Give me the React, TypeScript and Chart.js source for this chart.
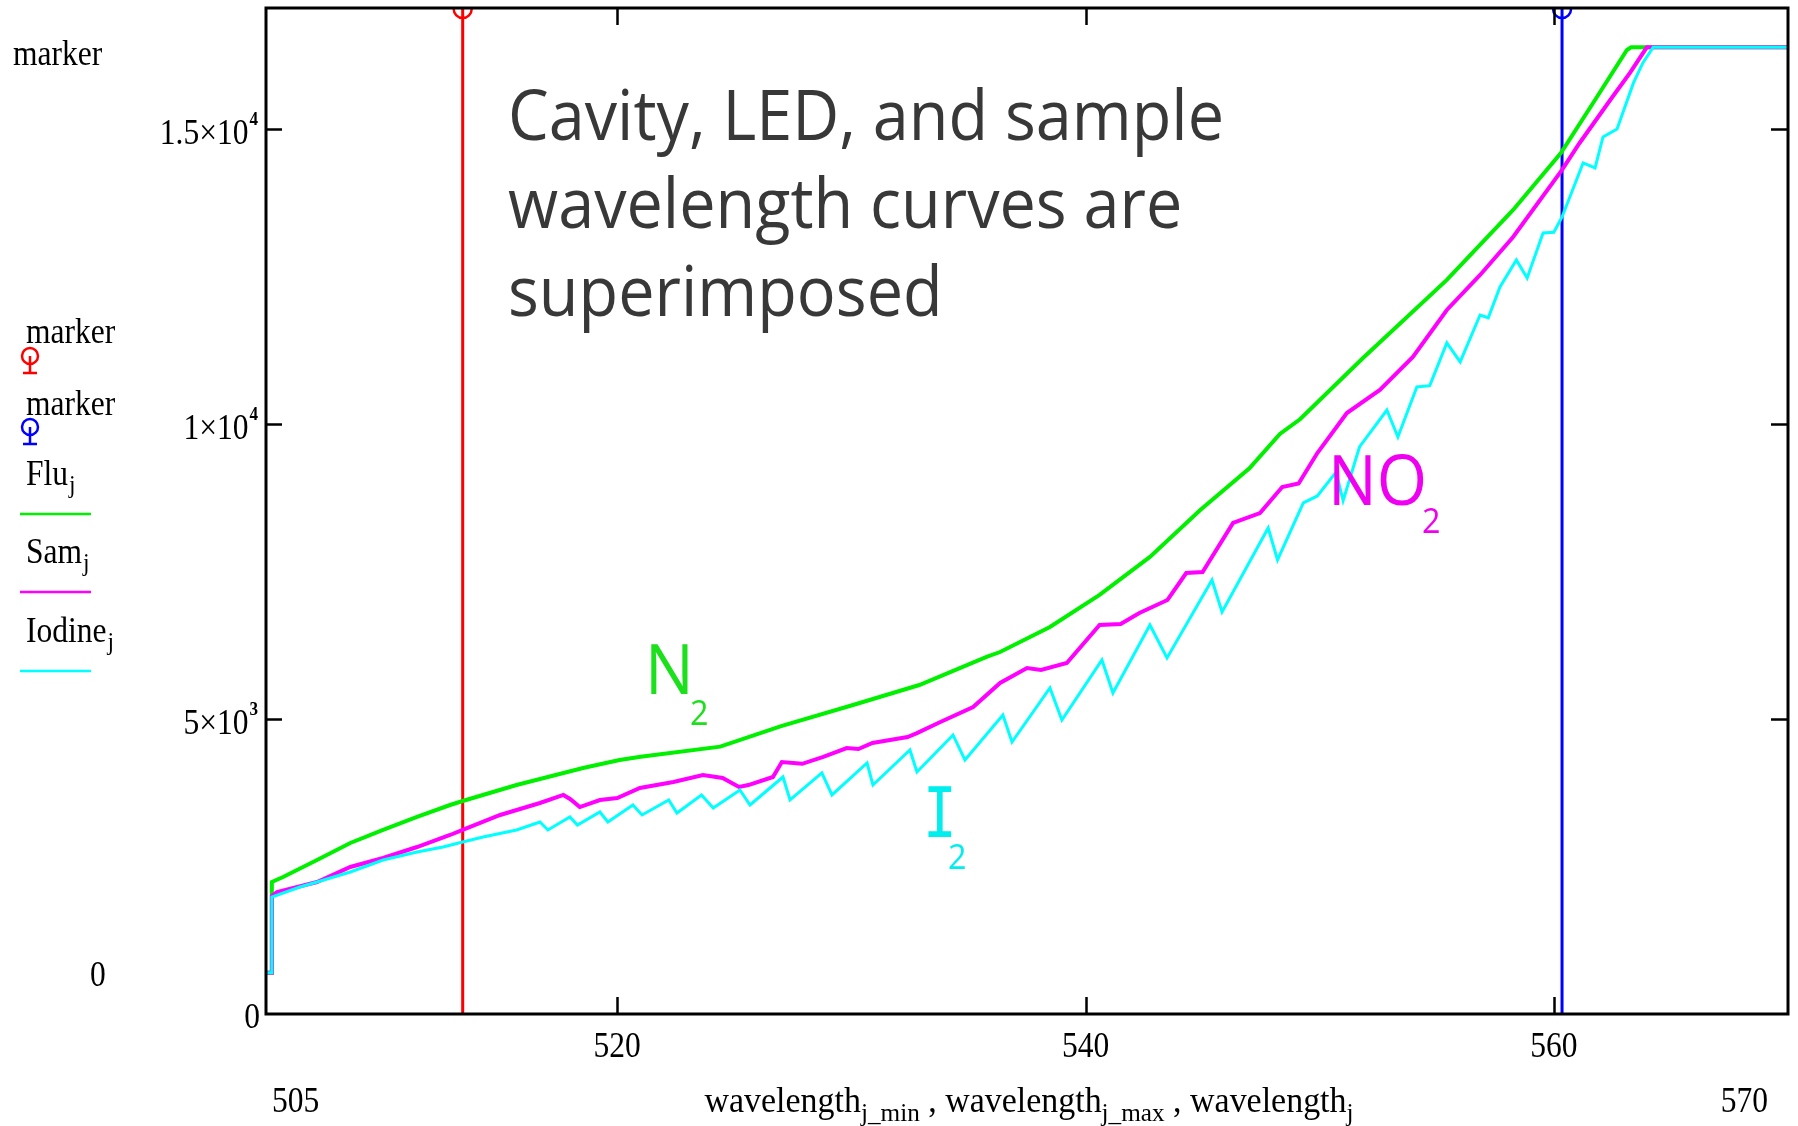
import React, { useEffect, useRef } from "react";
import { Chart, registerables } from "chart.js";

Chart.register(...registerables);

const W = 1798;
const H = 1126;

// ---- data ----
const fluWl = [505.0, 505.24, 505.25, 505.73, 507.18, 508.6, 510.0, 511.45, 512.86, 513.4, 515.7, 518.54, 520.1, 521.0, 524.4, 527.0, 530.07, 532.9, 535.8, 536.35, 538.48, 540.6, 542.75, 544.9, 547.0, 548.3, 549.16, 551.85, 555.43, 558.26, 560.3, 561.84, 563.12, 563.3, 570.0];
const fluVal = [700, 700, 2237, 2322, 2610, 2898, 3119, 3339, 3542, 3610, 3881, 4170, 4305, 4360, 4531, 4880, 5237, 5576, 6056, 6135, 6559, 7102, 7746, 8542, 9249, 9830, 10080, 11119, 12441, 13627, 14593, 15542, 16339, 16383, 16383];

const samWl = [505.0, 505.24, 505.25, 505.47, 507.18, 508.6, 510.0, 511.45, 512.86, 513.4, 515.0, 516.7, 517.7, 518.0, 518.4, 519.26, 520.0, 520.97, 522.4, 523.66, 524.5, 525.2, 525.6, 526.65, 527.03, 527.9, 528.8, 529.8, 530.3, 530.9, 532.4, 532.8, 533.8, 535.2, 536.35, 537.5, 538.1, 539.2, 540.6, 541.5, 542.3, 543.5, 544.3, 545.0, 546.3, 547.45, 548.4, 549.1, 549.9, 551.16, 552.57, 553.98, 555.43, 556.85, 558.26, 560.35, 561.1, 562.5, 563.25, 563.97, 570.0];
const samVal = [700, 700, 2000, 2068, 2237, 2492, 2644, 2830, 3034, 3119, 3373, 3576, 3712, 3640, 3508, 3627, 3660, 3830, 3932, 4051, 4000, 3847, 3880, 4017, 4271, 4240, 4356, 4508, 4490, 4593, 4695, 4760, 4949, 5203, 5610, 5864, 5830, 5949, 6593, 6610, 6796, 7017, 7474, 7490, 8322, 8491, 8932, 8990, 9508, 10186, 10576, 11135, 11932, 12525, 13169, 14305, 14762, 15542, 15949, 16383, 16383];

const iodWl = [505.0, 505.24, 505.25, 506.45, 507.18, 508.6, 510.0, 511.45, 512.56, 513.4, 514.27, 515.7, 516.7, 517.04, 517.98, 518.3, 519.26, 519.6, 520.67, 521.06, 522.2, 522.55, 523.6, 524.1, 525.24, 525.67, 527.08, 527.38, 528.74, 529.17, 530.67, 530.92, 532.5, 532.8, 534.34, 534.85, 536.47, 536.86, 538.48, 538.99, 540.7, 541.17, 542.75, 543.48, 545.4, 545.83, 547.8, 548.2, 549.3, 549.9, 550.7, 551.0, 551.7, 552.87, 553.34, 554.15, 554.7, 555.43, 556.0, 556.85, 557.2, 557.7, 558.4, 558.86, 559.54, 560.0, 560.35, 560.8, 561.25, 561.76, 562.1, 562.7, 563.4, 563.8, 564.24, 570.0];
const iodVal = [700, 700, 1983, 2153, 2237, 2407, 2610, 2746, 2830, 2915, 3000, 3119, 3254, 3119, 3339, 3203, 3424, 3254, 3542, 3373, 3627, 3407, 3712, 3491, 3797, 3542, 4017, 3627, 4085, 3712, 4254, 3881, 4475, 4102, 4729, 4305, 5068, 4610, 5525, 4983, 6000, 5441, 6593, 6034, 7356, 6813, 8237, 7695, 8661, 8780, 9186, 8700, 9610, 10237, 9780, 10627, 10650, 11373, 11051, 11847, 11800, 12322, 12780, 12475, 13237, 13250, 13508, 13966, 14424, 14339, 14864, 15000, 15780, 16119, 16383, 16383];

const markerRedWl = 513.4;
const markerBlueWl = 560.35;

const xMin = 505;
const xMax = 570;
const yMin = 0;
const yMax = 17050;

const xTicks = [520, 540, 560];
const xTickLabels = ["520", "540", "560"];
const yTicks = [5000, 10000, 15000];
const yTickMantissa = ["5×10", "1×10", "1.5×10"];
const yTickExp = ["3", "4", "4"];

const annotationLines = ["Cavity, LED, and sample", "wavelength curves are", "superimposed"];

// ---- styles ----
const GREEN = "#00f000";
const MAGENTA = "#ff00ff";
const CYAN = "#00ffff";
const RED = "#ff0000";
const BLUE = "#0000ff";
const SERIF = "'Liberation Serif', 'DejaVu Serif', serif";
const SANS = "'Open Sans', 'Noto Sans', sans-serif";
const SX = 0.9;

function drawText(ctx: CanvasRenderingContext2D, s: string, x: number, y: number, font: string, color: string, align: "left" | "right" | "center", sx = SX): number {
  ctx.save();
  ctx.font = font;
  ctx.fillStyle = color;
  ctx.textBaseline = "alphabetic";
  ctx.textAlign = "left";
  const w = ctx.measureText(s).width * sx;
  const x0 = align === "left" ? x : align === "right" ? x - w : x - w / 2;
  ctx.translate(x0, y);
  ctx.scale(sx, 1);
  ctx.fillText(s, 0, 0);
  ctx.restore();
  return w;
}

function measure(ctx: CanvasRenderingContext2D, s: string, font: string, sx = SX): number {
  ctx.save();
  ctx.font = font;
  const w = ctx.measureText(s).width * sx;
  ctx.restore();
  return w;
}

function markerGlyph(ctx: CanvasRenderingContext2D, cx: number, cy: number, color: string) {
  ctx.save();
  ctx.strokeStyle = color;
  ctx.lineWidth = 2.5;
  ctx.beginPath();
  ctx.arc(cx, cy, 8, 0, Math.PI * 2);
  ctx.stroke();
  ctx.beginPath();
  ctx.moveTo(cx, cy);
  ctx.lineTo(cx, cy + 18);
  ctx.moveTo(cx - 7, cy + 17);
  ctx.lineTo(cx + 7, cy + 17);
  ctx.stroke();
  ctx.restore();
}

const decorPlugin = {
  id: "decor",
  afterDatasetsDraw(chart: any) {
    const ctx: CanvasRenderingContext2D = chart.ctx;
    const { left, right, top, bottom } = chart.chartArea;
    const xs = chart.scales.x;
    const ys = chart.scales.y;

    // top marker symbols (lower half of circle at border)
    [[markerRedWl, RED], [markerBlueWl, BLUE]].forEach(([wl, c]) => {
      const px = xs.getPixelForValue(wl as number);
      ctx.save();
      ctx.strokeStyle = c as string;
      ctx.lineWidth = 2.5;
      ctx.beginPath();
      ctx.arc(px, top + 1, 9, 0, Math.PI);
      ctx.stroke();
      ctx.restore();
    });

    // frame
    ctx.save();
    ctx.strokeStyle = "#000";
    ctx.lineWidth = 3;
    ctx.strokeRect(left, top, right - left, bottom - top);
    ctx.lineWidth = 2.5;
    ctx.beginPath();
    yTicks.forEach((v) => {
      const py = Math.round(ys.getPixelForValue(v)) + 0.5;
      ctx.moveTo(left, py);
      ctx.lineTo(left + 16, py);
      ctx.moveTo(right, py);
      ctx.lineTo(right - 17, py);
    });
    xTicks.forEach((v) => {
      const px = Math.round(xs.getPixelForValue(v)) + 0.5;
      ctx.moveTo(px, bottom);
      ctx.lineTo(px, bottom - 17);
      ctx.moveTo(px, top);
      ctx.lineTo(px, top + 17);
    });
    ctx.stroke();
    ctx.restore();

    const mainFont = `35px ${SERIF}`;
    const supFont = `bold 19px ${SERIF}`;
    const subFont = `26px ${SERIF}`;

    // y tick labels
    yTicks.forEach((v, i) => {
      const py = ys.getPixelForValue(v);
      const supW = measure(ctx, yTickExp[i], supFont);
      drawText(ctx, yTickExp[i], 258, py - 4, supFont, "#000", "right");
      drawText(ctx, yTickMantissa[i], 258 - supW - 1, py + 15, mainFont, "#000", "right");
    });
    drawText(ctx, "0", 260, ys.getPixelForValue(0) + 14, mainFont, "#000", "right");

    // x tick labels
    xTicks.forEach((v, i) => {
      const px = xs.getPixelForValue(v);
      drawText(ctx, xTickLabels[i], px, bottom + 43, mainFont, "#000", "center");
    });
    drawText(ctx, String(xMin), 272, 1112, mainFont, "#000", "left");
    drawText(ctx, String(xMax), 1768, 1112, mainFont, "#000", "right");

    // x title
    const pieces: [string, boolean][] = [
      ["wavelength", false], ["j_min", true], [" , ", false],
      ["wavelength", false], ["j_max", true], [" , ", false],
      ["wavelength", false], ["j", true],
    ];
    let total = 0;
    pieces.forEach(([s, sub]) => { total += measure(ctx, s, sub ? subFont : mainFont); });
    const tScale = 649 / total;
    let tx = 1029 - 649 / 2;
    pieces.forEach(([s, sub]) => {
      tx += drawText(ctx, s, tx, sub ? 1121 : 1112, sub ? subFont : mainFont, "#000", "left", SX * tScale);
    });

    // left column
    drawText(ctx, "marker", 13, 65, mainFont, "#000", "left");
    drawText(ctx, "0", 90, 986, mainFont, "#000", "left");
    drawText(ctx, "marker", 26, 343, mainFont, "#000", "left");
    markerGlyph(ctx, 30, 356, RED);
    drawText(ctx, "marker", 26, 415, mainFont, "#000", "left");
    markerGlyph(ctx, 30, 427, BLUE);
    const legendRows: [string, number, string][] = [["Flu", 485, GREEN], ["Sam", 563, MAGENTA], ["Iodine", 642, CYAN]];
    legendRows.forEach(([name, base, color]) => {
      const w = drawText(ctx, name, 26, base, mainFont, "#000", "left");
      drawText(ctx, "j", 26 + w + 1, base + 8, subFont, "#000", "left");
      ctx.save();
      ctx.strokeStyle = color;
      ctx.lineWidth = 2.5;
      ctx.beginPath();
      ctx.moveTo(20, base + 29);
      ctx.lineTo(91, base + 29);
      ctx.stroke();
      ctx.restore();
    });

    // annotation text
    const annFont = `70px ${SANS}`;
    const annSx = 716 / measure(ctx, annotationLines[0], annFont, 1);
    const annBase = [140, 228, 316];
    annotationLines.forEach((s, i) => drawText(ctx, s, 508, annBase[i], annFont, "#383838", "left", annSx));

    const subAnn = `35px ${SANS}`;
    drawText(ctx, "N", 645, 694, annFont, "#1be01b", "left", annSx);
    drawText(ctx, "2", 690, 725, subAnn, "#1be01b", "left", annSx);
    drawText(ctx, "NO", 1328, 505, annFont, "#f000f0", "left", annSx);
    drawText(ctx, "2", 1422, 533, subAnn, "#f000f0", "left", annSx);
    drawText(ctx, "I", 923, 837, `70px 'DejaVu Sans Mono', monospace`, "#00eeee", "left", 0.8);
    drawText(ctx, "2", 948, 869, subAnn, "#00eeee", "left", annSx);
  },
};

function pts(xs: number[], ys: number[]) {
  return xs.map((x, i) => ({ x, y: ys[i] }));
}

export default function App() {
  const ref = useRef<HTMLCanvasElement | null>(null);
  useEffect(() => {
    if (!ref.current) return;
    const chart = new Chart(ref.current, {
      type: "line",
      data: {
        datasets: [
          { label: "marker red", data: [{ x: markerRedWl, y: yMin }, { x: markerRedWl, y: yMax }], borderColor: RED, borderWidth: 3, pointRadius: 0, order: 6 },
          { label: "marker blue", data: [{ x: markerBlueWl, y: yMin }, { x: markerBlueWl, y: yMax }], borderColor: BLUE, borderWidth: 3, pointRadius: 0, order: 5 },
          { label: "Flu", data: pts(fluWl, fluVal), borderColor: GREEN, borderWidth: 4, pointRadius: 0, tension: 0, order: 3 },
          { label: "Sam", data: pts(samWl, samVal), borderColor: MAGENTA, borderWidth: 4, pointRadius: 0, tension: 0, order: 2 },
          { label: "Iodine", data: pts(iodWl, iodVal), borderColor: CYAN, borderWidth: 3, pointRadius: 0, tension: 0, order: 1 },
        ],
      },
      options: {
        animation: false,
        responsive: false,
        devicePixelRatio: 1,
        parsing: true,
        layout: { padding: { left: 266, top: 8, right: 10, bottom: 112 } },
        scales: {
          x: { type: "linear", min: xMin, max: xMax, display: false },
          y: { type: "linear", min: yMin, max: yMax, display: false },
        },
        plugins: { legend: { display: false }, tooltip: { enabled: false } },
        events: [],
      },
      plugins: [decorPlugin],
    });
    return () => chart.destroy();
  }, []);
  return (
    <div style={{ position: "absolute", left: 0, top: 0, width: W, height: H, background: "#fff" }}>
      <canvas ref={ref} width={W} height={H} style={{ width: W, height: H, display: "block" }} />
    </div>
  );
}
